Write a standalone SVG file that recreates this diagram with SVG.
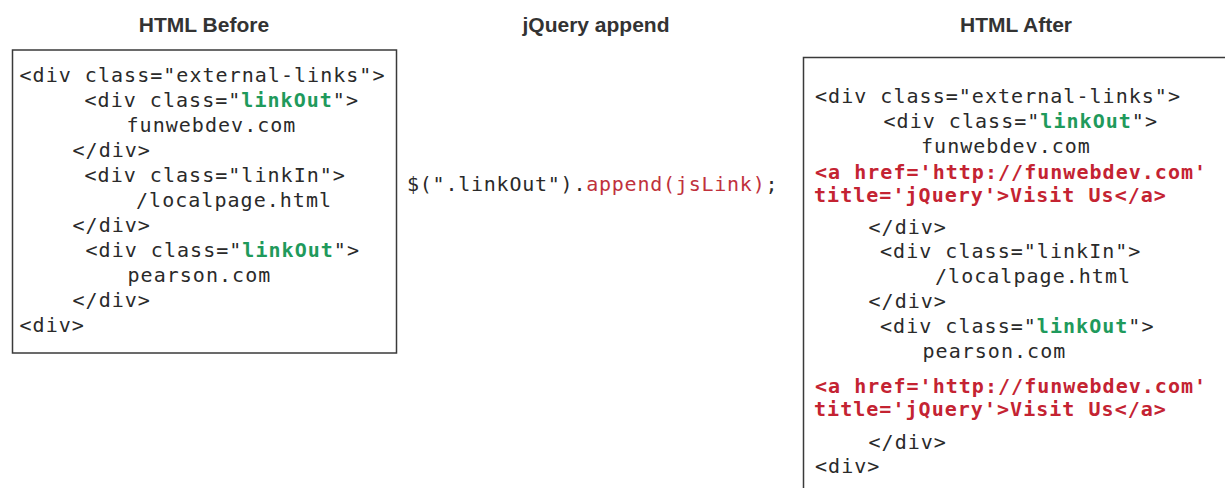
<svg xmlns="http://www.w3.org/2000/svg" width="1225" height="488" viewBox="0 0 1225 488">
<style>
.hd{font-family:"Liberation Sans",Arial,sans-serif;font-weight:700;font-size:21px;fill:#333;text-anchor:middle}
.code{font-family:"DejaVu Sans Mono",monospace;font-size:20px;letter-spacing:1.03px;fill:#2a2a2a}
.g{fill:#1f9a5c;font-weight:700}
.r{fill:#c42332;font-weight:700}
.rr{fill:#c0313c}
.box{fill:#fff;stroke:#3a3a3a;stroke-width:1.5}
</style>
<rect width="1225" height="488" fill="#fff"/>
<g id="headers">
<text class="hd" x="204" y="32">HTML Before</text>
<text class="hd" x="596" y="32">jQuery append</text>
<text class="hd" x="1016" y="32">HTML After</text>
</g>
<g id="before">
<rect class="box" x="12.5" y="50" width="384" height="303"/>
<text class="code" x="19.5" y="81.5">&lt;div class="external-links"&gt;</text>
<text class="code" x="84.5" y="106.5">&lt;div class="<tspan class="g">linkOut</tspan>"&gt;</text>
<text class="code" x="126.5" y="131.5">funwebdev.com</text>
<text class="code" x="72.5" y="156.5">&lt;/div&gt;</text>
<text class="code" x="84.5" y="181.5">&lt;div class="linkIn"&gt;</text>
<text class="code" x="136" y="206.5">/localpage.html</text>
<text class="code" x="72.5" y="231.5">&lt;/div&gt;</text>
<text class="code" x="85.5" y="256.5">&lt;div class="<tspan class="g">linkOut</tspan>"&gt;</text>
<text class="code" x="127.5" y="281.5">pearson.com</text>
<text class="code" x="72.5" y="306.5">&lt;/div&gt;</text>
<text class="code" x="19.5" y="331.5">&lt;div&gt;</text>
</g>
<g id="jquery">
<text class="code" x="407" y="191" style="letter-spacing:0.76px">$(".linkOut").<tspan class="rr">append(jsLink)</tspan>;</text>
</g>
<g id="after">
<rect class="box" x="803.5" y="57.5" width="440" height="450"/>
<text class="code" x="815" y="103">&lt;div class="external-links"&gt;</text>
<text class="code" x="883.5" y="128">&lt;div class="<tspan class="g">linkOut</tspan>"&gt;</text>
<text class="code" x="921" y="153">funwebdev.com</text>
<text class="code r" x="815" y="179">&lt;a href='http://funwebdev.com'</text>
<text class="code r" x="814" y="202">title='jQuery'&gt;Visit Us&lt;/a&gt;</text>
<text class="code" x="868.5" y="234">&lt;/div&gt;</text>
<text class="code" x="880" y="258">&lt;div class="linkIn"&gt;</text>
<text class="code" x="935" y="283">/localpage.html</text>
<text class="code" x="868.5" y="308">&lt;/div&gt;</text>
<text class="code" x="880" y="333">&lt;div class="<tspan class="g">linkOut</tspan>"&gt;</text>
<text class="code" x="922.5" y="358">pearson.com</text>
<text class="code r" x="815" y="393">&lt;a href='http://funwebdev.com'</text>
<text class="code r" x="814" y="416">title='jQuery'&gt;Visit Us&lt;/a&gt;</text>
<text class="code" x="868.5" y="449">&lt;/div&gt;</text>
<text class="code" x="815" y="473">&lt;div&gt;</text>
</g>
</svg>
